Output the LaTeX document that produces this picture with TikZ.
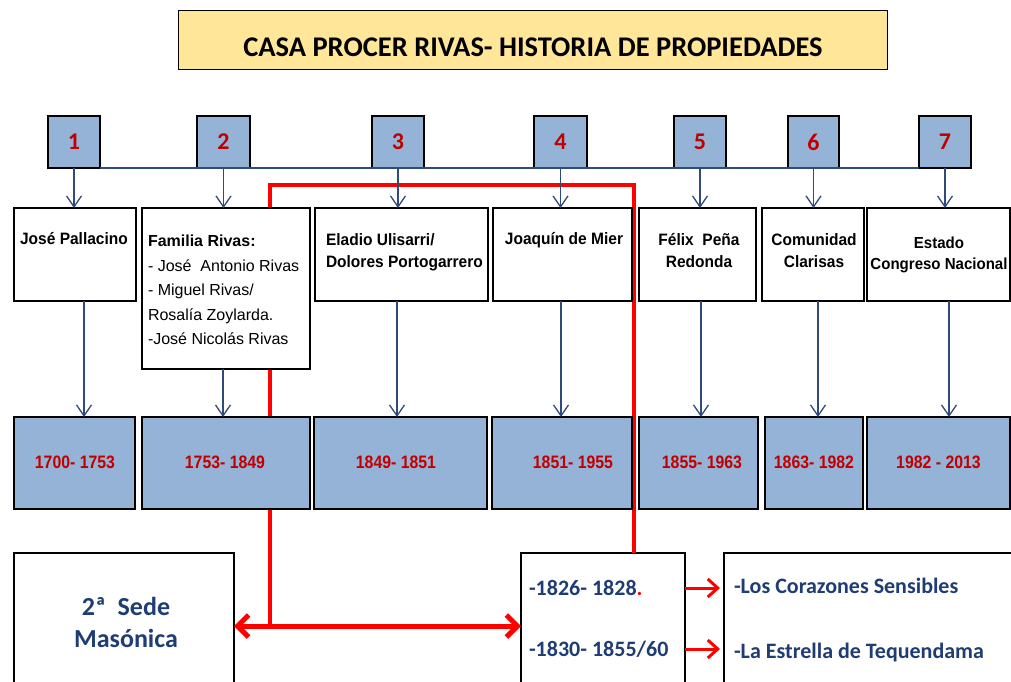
\documentclass[tikz,border=0pt]{standalone}
\usepackage{fontspec}
\setmainfont{Liberation Sans}
\newfontfamily\carl{Carlito}
\newfontfamily\narrowb[FakeStretch=0.88]{Liberation Sans}
\newfontfamily\semib[FakeStretch=0.94]{Liberation Sans}
\usetikzlibrary{arrows.meta,calc}
\definecolor{boxblue}{HTML}{95B3D7}
\definecolor{numred}{HTML}{C00000}
\definecolor{conblue}{HTML}{2F4B7C}
\definecolor{titleyel}{HTML}{FFE699}
\definecolor{navy}{HTML}{1F3D74}
\definecolor{linered}{HTML}{FF0000}
\begin{document}
\begin{tikzpicture}[x=1pt,y=-1pt,
  every node/.style={inner sep=0pt,outer sep=0pt},
  frame/.style={draw=black,line width=1.2pt,anchor=north west},
  numbox/.style={frame,fill=boxblue,minimum height=52,text=numred,font=\carl\bfseries\fontsize{24}{24}\selectfont},
  ownbox/.style={frame,fill=white},
  datebox/.style={frame,fill=boxblue,minimum height=92},
  datetxt/.style={text=numred,font=\narrowb\bfseries\fontsize{18}{20}\selectfont},
  owntxt/.style={font=\semib\bfseries\fontsize{16.5}{22}\selectfont,align=center,anchor=base},
  bottxt/.style={text=navy,font=\carl\bfseries\fontsize{22}{24}\selectfont,anchor=west},
  conn/.style={draw=conblue,line width=1.3pt,-{Straight Barb[length=11pt,width=15pt]}},
  redl/.style={draw=linered,line width=4pt},
  redarr/.style={draw=linered,line width=5pt,{Straight Barb[length=11pt,width=22pt]}-{Straight Barb[length=11pt,width=22pt]}},
  redsmall/.style={draw=linered,line width=3pt,-{Straight Barb[length=10pt,width=18pt]}}
]
\useasboundingbox (0,0) rectangle (1011,681);
% title
\node[frame,fill=titleyel,line width=1pt,minimum width=709,minimum height=59] (title) at (178,10) {};
\node[anchor=base,font=\carl\bfseries\fontsize{28.5}{30}\selectfont] (titletxt) at (533,56) {CASA PROCER RIVAS- HISTORIA DE PROPIEDADES};
% bottom boxes
\node[ownbox,minimum width=220,minimum height=140] (sede) at (14,553) {};
\node[ownbox,minimum width=164,minimum height=140] (mid) at (521,553) {};
\node[ownbox,minimum width=295,minimum height=140] (logias) at (724,553) {};
% red lines (behind boxes)
\coordinate (rj) at (270,626);
\coordinate (rc) at (634,185);
\draw[redl] (rj) |- (rc) -- (rc |- mid.north);
\draw[redarr] (sede.east |- rj) -- (mid.west |- rj);
% number boxes
\node[numbox,minimum width=52] (n1) at (48,116) {1};
\node[numbox,minimum width=53] (n2) at (197,116) {2};
\node[numbox,minimum width=52] (n3) at (372,116) {3};
\node[numbox,minimum width=53] (n4) at (534,116) {4};
\node[numbox,minimum width=52] (n5) at (674,116) {5};
\node[numbox,minimum width=51] (n6) at (788,116) {6};
\node[numbox,minimum width=52] (n7) at (919,116) {7};
\draw[draw=conblue,line width=1.3pt] (n1.south east) -- (n7.south west);
% owner boxes
\node[ownbox,minimum width=122,minimum height=93] (o1) at (14,208) {};
\node[ownbox,minimum width=168,minimum height=161] (o2) at (142,208) {};
\node[ownbox,minimum width=173,minimum height=93] (o3) at (315,208) {};
\node[ownbox,minimum width=139,minimum height=93] (o4) at (493,208) {};
\node[ownbox,minimum width=117,minimum height=93] (o5) at (639,208) {};
\node[ownbox,minimum width=102,minimum height=93] (o6) at (762,208) {};
\node[ownbox,minimum width=143,minimum height=93] (o7) at (867,208) {};
\node[owntxt] (ot1) at (74,244) {José Pallacino};
\node[anchor=base west,align=left,font=\fontsize{16}{24.5}\selectfont] (ot2) at (148,344.5)
  {\textbf{Familia Rivas:}\\- José\ \ Antonio Rivas\\- Miguel Rivas/\\Rosalía Zoylarda.\\-José Nicolás Rivas};
\node[owntxt,align=left,anchor=base west] (ot3) at (326,267) {Eladio Ulisarri/\\Dolores Portogarrero};
\node[owntxt] (ot4) at (564,244) {Joaquín de Mier};
\node[owntxt] (ot5) at (699,267) {Félix\ \ Peña\\Redonda};
\node[owntxt] (ot6) at (814,267) {Comunidad\\Clarisas};
\node[owntxt,font=\semib\bfseries\fontsize{16}{21}\selectfont] (ot7) at (939,269) {Estado\\Congreso Nacional};
% date boxes
\node[datebox,minimum width=121] (d1) at (14,417) {};
\node[datebox,minimum width=168] (d2) at (142,417) {};
\node[datebox,minimum width=173] (d3) at (314,417) {};
\node[datebox,minimum width=140] (d4) at (492,417) {};
\node[datebox,minimum width=119] (d5) at (639,417) {};
\node[datebox,minimum width=98] (d6) at (765,417) {};
\node[datebox,minimum width=143] (d7) at (867,417) {};
\node[datetxt] (dt1) at (75,462) {1700- 1753};
\node[datetxt] (dt2) at (225,462) {1753- 1849};
\node[datetxt] (dt3) at (396,462) {1849- 1851};
\node[datetxt] (dt4) at (573,462) {1851- 1955};
\node[datetxt] (dt5) at (702,462) {1855- 1963};
\node[datetxt] (dt6) at (814,462) {1863- 1982};
\node[datetxt] (dt7) at (938.5,462) {1982 - 2013};
% top connectors
\foreach \i in {1,...,7} {
  \draw[conn] (n\i.south) -- (n\i.south |- o\i.north);
}
% lower connectors
\draw[conn] ([xshift=9]o1.south) -- ([xshift=9]o1.south |- d1.north);
\draw[conn] ([xshift=-3]o2.south) -- ([xshift=-3]o2.south |- d2.north);
\draw[conn] ([xshift=-4.5]o3.south) -- ([xshift=-4.5]o3.south |- d3.north);
\draw[conn] ([xshift=-1.5]o4.south) -- ([xshift=-1.5]o4.south |- d4.north);
\draw[conn] ([xshift=3.5]o5.south) -- ([xshift=3.5]o5.south |- d5.north);
\draw[conn] ([xshift=5]o6.south) -- ([xshift=5]o6.south |- d6.north);
\draw[conn] ([xshift=10.5]o7.south) -- ([xshift=10.5]o7.south |- d7.north);
% bottom texts
\node[text=navy,font=\carl\bfseries\fontsize{26}{32}\selectfont,align=center] (sedetxt) at (126,622) {2ª\ \ Sede\\Masónica};
\node[bottxt] (m1) at (529,588) {-1826- 1828\textcolor{linered}{.}};
\node[bottxt] (m2) at (529,649) {-1830- 1855/60};
\node[bottxt] (l1) at (734,586) {-Los Corazones Sensibles};
\node[bottxt] (l2) at (734,652) {-La Estrella de Tequendama};
\draw[redsmall] (mid.east |- m1) -- ([xshift=-4]logias.west |- m1);
\draw[redsmall] (mid.east |- m2) -- ([xshift=-4]logias.west |- m2);
\end{tikzpicture}
\end{document}
